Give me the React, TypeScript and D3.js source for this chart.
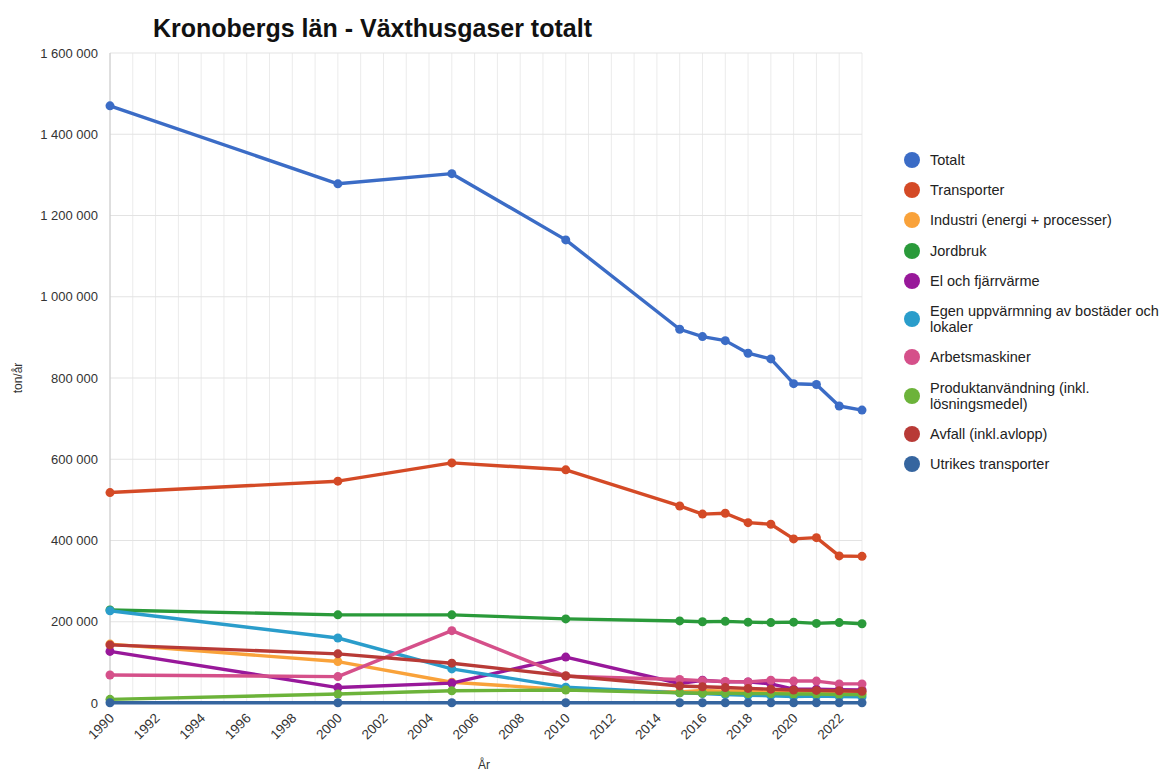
import React, { useEffect, useRef } from 'react'
import * as d3 from 'd3'

const years = [1990, 2000, 2005, 2010, 2015, 2016, 2017, 2018, 2019, 2020, 2021, 2022, 2023]

const totalt = [1470000, 1278000, 1303000, 1140000, 920000, 902000, 892000, 861000, 847000, 786000, 784000, 731000, 721000]
const transporter = [518000, 546000, 591000, 574000, 485000, 465000, 467000, 444000, 440000, 404000, 407000, 362000, 361000]
const industri = [145000, 102000, 51000, 33000, 27000, 31000, 29000, 30000, 27000, 27000, 25000, 26000, 25000]
const jordbruk = [229000, 217000, 217000, 207000, 202000, 200000, 201000, 199000, 198000, 199000, 196000, 198000, 195000]
const elFjarrvarme = [127000, 38000, 49000, 113000, 48000, 56000, 52000, 52000, 47000, 34000, 34000, 33000, 32000]
const egenUppvarmning = [227000, 160000, 84000, 39000, 25000, 23000, 21000, 19000, 18000, 16000, 17000, 16000, 15000]
const arbetsmaskiner = [69000, 65000, 178000, 66000, 58000, 55000, 53000, 52000, 56000, 54000, 54000, 47000, 47000]
const produktanvandning = [9000, 22000, 30000, 32000, 25000, 24000, 24000, 23000, 23000, 22000, 22000, 21000, 21000]
const avfall = [143000, 121000, 98000, 67000, 42000, 40000, 38000, 36000, 34000, 32000, 31000, 30000, 29000]
const utrikes = [500, 500, 500, 500, 500, 500, 500, 500, 500, 500, 500, 500, 500]

const seriesNames = [
    ['Totalt'],
    ['Transporter'],
    ['Industri (energi + processer)'],
    ['Jordbruk'],
    ['El och fjärrvärme'],
    ['Egen uppvärmning av bostäder och', 'lokaler'],
    ['Arbetsmaskiner'],
    ['Produktanvändning (inkl.', 'lösningsmedel)'],
    ['Avfall (inkl.avlopp)'],
    ['Utrikes transporter']
]
const seriesValues = [totalt, transporter, industri, jordbruk, elFjarrvarme, egenUppvarmning, arbetsmaskiner, produktanvandning, avfall, utrikes]
const colors = ['#3b6cc6', '#d44a26', '#f9a23a', '#2a9a3a', '#98189a', '#2a9dcb', '#d5508a', '#6cb33a', '#b83a36', '#35659f']

const yTicks = [0, 200000, 400000, 600000, 800000, 1000000, 1200000, 1400000, 1600000]

const W = 1165
const H = 771
const FONT = '"Liberation Sans", Arial, sans-serif'

export default function App() {
    const ref = useRef(null)

    useEffect(() => {
        const svg = d3.select(ref.current)
        svg.selectAll('*').remove()

        const left = 110, right = 862, top = 53, bottom = 703

        const x = d3.scaleLinear().domain([1990, 2023]).range([left, right])
        const y = d3.scaleLinear().domain([0, 1600000]).range([bottom, top])

        const fmt = d3.formatLocale({ decimal: ',', thousands: ' ', grouping: [3], currency: ['', ''] }).format(',d')

        svg.append('rect').attr('width', W).attr('height', H).attr('fill', '#fff')

        // title
        svg.append('text')
            .attr('x', 153).attr('y', 37)
            .style('font', `bold 25px ${FONT}`)
            .attr('fill', '#111')
            .text('Kronobergs län - Växthusgaser totalt')

        // grid
        const grid = svg.append('g')
        grid.selectAll('line.v')
            .data(d3.range(1990, 2024))
            .join('line')
            .attr('x1', d => x(d)).attr('x2', d => x(d))
            .attr('y1', top).attr('y2', bottom)
            .attr('stroke', '#ebebeb').attr('stroke-width', 1)
        grid.selectAll('line.h')
            .data(yTicks)
            .join('line')
            .attr('x1', left).attr('x2', right)
            .attr('y1', d => y(d)).attr('y2', d => y(d))
            .attr('stroke', '#e3e3e3').attr('stroke-width', 1)
        grid.append('line')
            .attr('x1', left).attr('x2', left)
            .attr('y1', top).attr('y2', bottom)
            .attr('stroke', '#c8c8c8')

        // y axis labels
        svg.append('g').selectAll('text')
            .data(yTicks)
            .join('text')
            .attr('x', left - 12).attr('y', d => y(d) + 4.5)
            .attr('text-anchor', 'end')
            .style('font', `13px ${FONT}`)
            .attr('fill', '#333')
            .text(d => fmt(d))

        svg.append('text')
            .attr('transform', `translate(22,${(top + bottom) / 2}) rotate(-90)`)
            .attr('text-anchor', 'middle')
            .style('font', `12px ${FONT}`)
            .attr('fill', '#333')
            .text('ton/år')

        // x axis labels
        svg.append('g').selectAll('text')
            .data(d3.range(1990, 2024, 2))
            .join('text')
            .attr('transform', d => `translate(${x(d) + 5},${bottom + 16}) rotate(-45)`)
            .attr('text-anchor', 'end')
            .style('font', `13.5px ${FONT}`)
            .attr('fill', '#333')
            .text(d => d)

        svg.append('text')
            .attr('x', 478).attr('y', 769)
            .style('font', `12px ${FONT}`)
            .attr('fill', '#333')
            .text('År')

        // lines
        const line = d3.line()
            .x((d, i) => x(years[i]))
            .y(d => y(d))

        const series = svg.append('g').selectAll('g')
            .data(seriesValues)
            .join('g')

        series.append('path')
            .attr('d', d => line(d))
            .attr('fill', 'none')
            .attr('stroke', (d, i) => colors[i])
            .attr('stroke-width', 3.4)
            .attr('stroke-linejoin', 'round')

        series.each(function (vals, si) {
            d3.select(this).selectAll('circle')
                .data(vals)
                .join('circle')
                .attr('cx', (d, i) => x(years[i]))
                .attr('cy', d => y(d))
                .attr('r', 4.5)
                .attr('fill', colors[si])
        })

        // legend
        const legendY = [160, 190, 220, 251, 281, 319, 357, 396, 434, 464]
        const legend = svg.append('g').selectAll('g')
            .data(seriesNames)
            .join('g')
            .attr('transform', (d, i) => `translate(912,${legendY[i]})`)
        legend.append('circle')
            .attr('r', 8)
            .attr('fill', (d, i) => colors[i])
        legend.append('text')
            .style('font', `14.5px ${FONT}`)
            .attr('fill', '#222')
            .each(function (lines) {
                const t = d3.select(this)
                lines.forEach((l, j) => {
                    t.append('tspan')
                        .attr('x', 18)
                        .attr('y', (j - (lines.length - 1) / 2) * 16 + 5)
                        .text(l)
                })
            })
    }, [])

    return (
        <svg ref={ref} width={W} height={H} style={{ position: 'absolute', left: 0, top: 0 }} />
    )
}
